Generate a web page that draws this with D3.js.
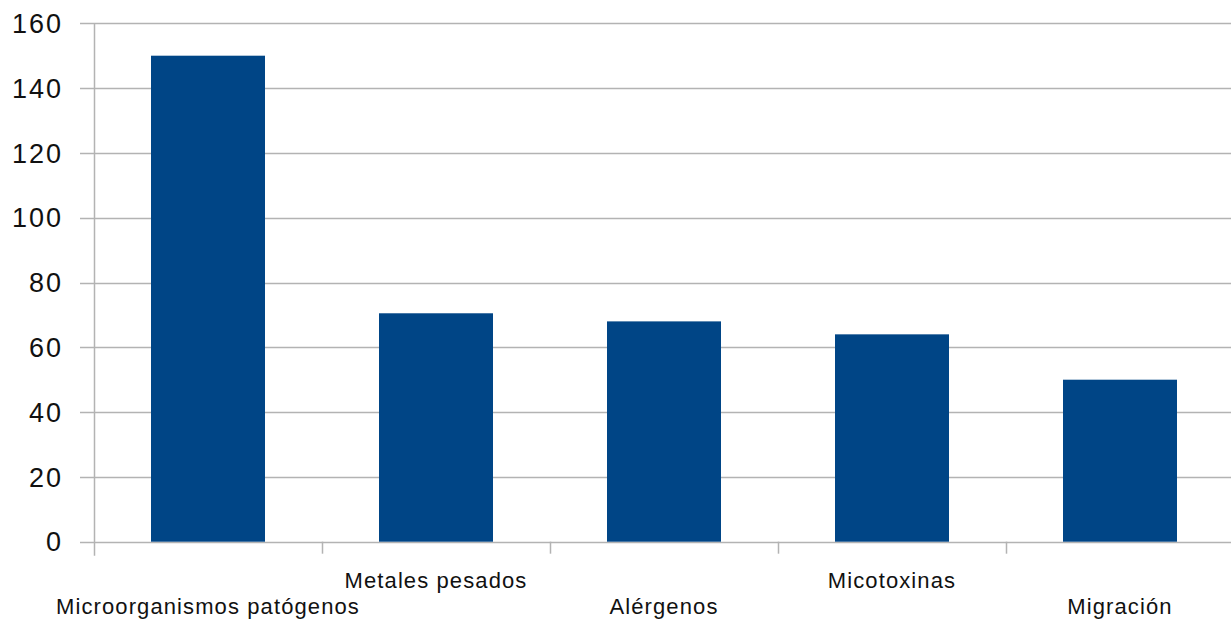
<!DOCTYPE html>
<html>
<head>
<meta charset="utf-8">
<script src="https://cdn.jsdelivr.net/npm/d3@7"></script>
<style>
  html, body { margin: 0; padding: 0; background: #fff; }
  svg { display: block; }
  text { font-family: "Liberation Sans", Arial, sans-serif; fill: #111; }
</style>
</head>
<body>
<svg id="chart" width="1231" height="624"></svg>
<script>
const categories = ["Microorganismos patógenos", "Metales pesados", "Alérgenos", "Micotoxinas", "Migración"];
const values = [150, 70.5, 68, 64, 50];
const yTicks = [0, 20, 40, 60, 80, 100, 120, 140, 160];

const svg = d3.select("#chart");
const margin = { left: 94, right: -3, top: 23.3, bottom: 82.3 };
const W = 1231, H = 624;

const x = d3.scaleBand()
  .domain(categories)
  .range([margin.left, W - margin.right])
  .paddingInner(0.5)
  .paddingOuter(0.25);

const y = d3.scaleLinear()
  .domain([0, 160])
  .range([H - margin.bottom, margin.top]);

const grid = "#b3b3b3";

// horizontal gridlines with short ticks left of the axis
svg.append("g")
  .selectAll("line")
  .data(yTicks)
  .join("line")
  .attr("x1", margin.left - 14)
  .attr("x2", W)
  .attr("y1", d => Math.round(y(d)) + 0.5)
  .attr("y2", d => Math.round(y(d)) + 0.5)
  .attr("stroke", grid)
  .attr("stroke-width", 1.5);

// y tick labels
svg.append("g")
  .selectAll("text")
  .data(yTicks)
  .join("text")
  .attr("x", 63)
  .attr("y", d => y(d))
  .attr("dy", "0.36em")
  .attr("text-anchor", "end")
  .attr("font-size", 27)
  .attr("letter-spacing", 2)
  .text(d => d);

// bars
svg.append("g")
  .selectAll("rect")
  .data(categories)
  .join("rect")
  .attr("x", d => x(d))
  .attr("width", x.bandwidth())
  .attr("y", (d, i) => y(values[i]))
  .attr("height", (d, i) => y(0) - y(values[i]))
  .attr("fill", "#004586");

// y axis line
svg.append("line")
  .attr("x1", margin.left + 0.5).attr("x2", margin.left + 0.5)
  .attr("y1", y(160)).attr("y2", y(0) + 14)
  .attr("stroke", grid).attr("stroke-width", 1.5);

// category boundary ticks below the baseline
const step = x.step();
const bounds = d3.range(categories.length).map(i => margin.left + i * step);
svg.append("g")
  .selectAll("line")
  .data(bounds.slice(1))
  .join("line")
  .attr("x1", d => Math.round(d) + 0.5)
  .attr("x2", d => Math.round(d) + 0.5)
  .attr("y1", y(0))
  .attr("y2", y(0) + 12)
  .attr("stroke", grid)
  .attr("stroke-width", 1.5);

// staggered category labels
svg.append("g")
  .selectAll("text")
  .data(categories)
  .join("text")
  .attr("x", d => x(d) + x.bandwidth() / 2)
  .attr("y", (d, i) => i % 2 === 0 ? 614 : 588)
  .attr("text-anchor", "middle")
  .attr("font-size", 22)
  .attr("letter-spacing", 1.1)
  .text(d => d);
</script>
</body>
</html>
